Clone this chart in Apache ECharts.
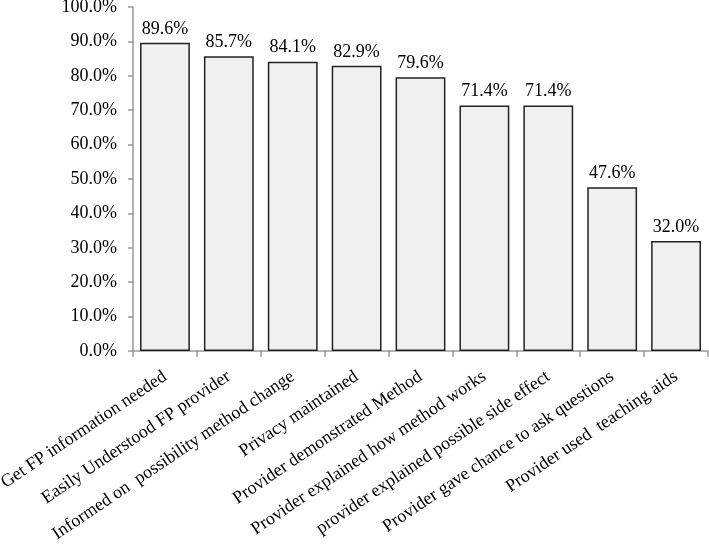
<!DOCTYPE html>
<html><head><meta charset="utf-8">
<script src="https://cdn.jsdelivr.net/npm/echarts@6/dist/echarts.min.js"></script>
<style>html,body{margin:0;padding:0;background:#fff}#c{width:709px;height:553px}</style>
</head><body><div id="c"></div>
<script>
const categories = ["Get FP information needed","Easily Understood FP provider","Informed on  possibility method change","Privacy maintained","Provider demonstrated Method","Provider explained how method works","provider explained possible side effect","Provider gave chance to ask questions","Provider used  teaching aids"];
const values = [89.6, 85.7, 84.1, 82.9, 79.6, 71.4, 71.4, 47.6, 32.0];
const font = "'Liberation Serif', 'Times New Roman', serif";
const chart = echarts.init(document.getElementById('c'), null, {renderer:'canvas'});
chart.setOption({
  animation:false,
  grid:{left:133, right:1, top:7, bottom:202, containLabel:false, outerBoundsMode:'none'},
  xAxis:{type:'category', data:categories,
    axisLine:{lineStyle:{color:'#999', width:1.5}},
    axisTick:{show:true, length:6, lineStyle:{color:'#999', width:1.5}},
    axisLabel:{rotate:34, interval:0, fontFamily:font, fontSize:18, color:'#000', margin:24}},
  yAxis:{type:'value', min:0, max:100, interval:10,
    axisLine:{show:true, lineStyle:{color:'#999', width:1.5}},
    axisTick:{show:true, length:5, lineStyle:{color:'#999', width:1.5}},
    splitLine:{show:false},
    axisLabel:{formatter:v=>v.toFixed(1)+'%', fontFamily:font, fontSize:18, color:'#000', margin:16}},
  series:[{type:'bar', data:values, barCategoryGap:'22%',
    itemStyle:{color:'#f0f0f0', borderColor:'#222', borderWidth:1.5},
    label:{show:true, position:'top', formatter:p=>p.value.toFixed(1)+'%', fontFamily:font, fontSize:18, color:'#000', distance:5}}]
});
</script></body></html>
